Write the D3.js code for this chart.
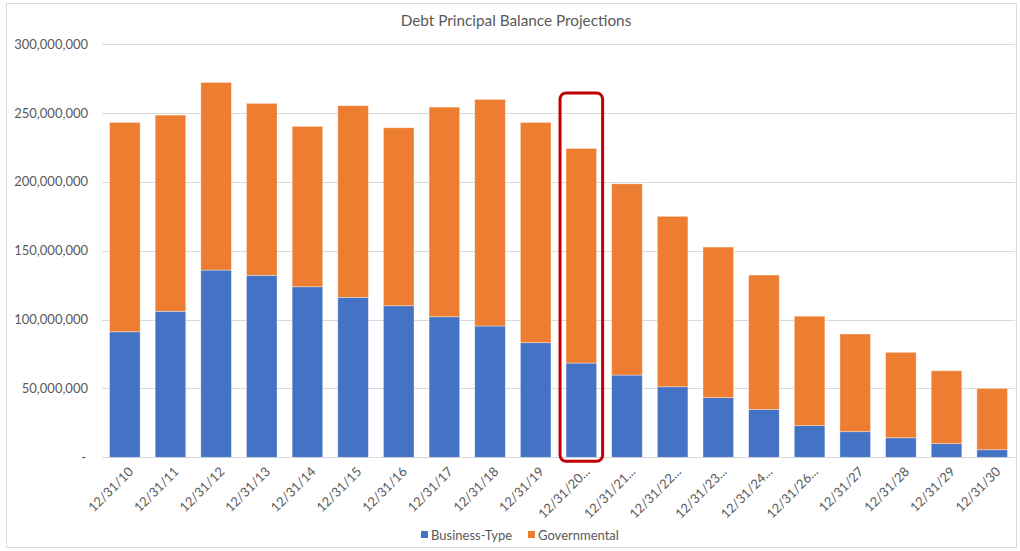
<!DOCTYPE html>
<html>
<head>
<meta charset="utf-8">
<script src="https://cdn.jsdelivr.net/npm/d3@7/dist/d3.min.js"></script>
<style>
  html, body { margin: 0; padding: 0; background: #fff; }
  svg { display: block; font-family: Lato, "Open Sans", sans-serif; }
</style>
</head>
<body>
<svg id="chart" width="1020" height="551"></svg>
<script>
const categories = ["12/31/10","12/31/11","12/31/12","12/31/13","12/31/14","12/31/15","12/31/16","12/31/17","12/31/18","12/31/19","12/31/20...","12/31/21...","12/31/22...","12/31/23...","12/31/24...","12/31/26...","12/31/27","12/31/28","12/31/29","12/31/30"];
const businessType = [91.1,106.0,135.9,132.1,123.8,116.1,110.0,102.0,95.3,83.2,68.4,59.7,51.2,43.3,34.8,23.0,18.6,14.2,9.9,5.5].map(v => v * 1e6);
const governmental = [152.0,142.4,136.2,124.8,116.4,139.1,129.2,152.2,164.5,159.9,155.8,138.8,123.7,109.3,97.5,79.4,70.9,62.0,52.9,44.5].map(v => v * 1e6);
const yTicks = [0, 50e6, 100e6, 150e6, 200e6, 250e6, 300e6];
const seriesNames = ["Business-Type", "Governmental"];
const seriesColors = ["#4472C4", "#ED7D31"];
const highlighted = "12/31/20...";
const title = "Debt Principal Balance Projections";

const svg = d3.select("#chart");
const plot = { left: 102, right: 1015, top: 44, bottom: 457.3 };

// frame
svg.append("rect").attr("x", 6.5).attr("y", 3.5).attr("width", 1010).attr("height", 544)
  .attr("fill", "#fff").attr("stroke", "#d9d9d9").attr("stroke-width", 1);

const x = d3.scaleBand().domain(categories).range([plot.left, plot.right])
  .paddingInner(0.33).paddingOuter(0.165);
const y = d3.scaleLinear().domain([0, 300e6]).range([plot.bottom, plot.top]);

// gridlines
svg.append("g").selectAll("line").data(yTicks).join("line")
  .attr("x1", plot.left).attr("x2", plot.right)
  .attr("y1", d => Math.round(y(d)) + 0.5).attr("y2", d => Math.round(y(d)) + 0.5)
  .attr("stroke", "#d9d9d9").attr("stroke-width", 1);

// y axis labels
const fmt = d3.format(",");
const yAxis = d3.axisLeft(y).tickValues(yTicks).tickSize(0).tickPadding(0)
  .tickFormat(d => d === 0 ? "-" : fmt(d));
const yg = svg.append("g").attr("transform", `translate(${88},0)`).call(yAxis);
yg.select(".domain").remove();
yg.selectAll("text").attr("fill", "#595959").attr("font-size", 13)
  .attr("font-family", "Lato, sans-serif").attr("dx", d => d === 0 ? -2 : 0);

// stacked data
const rows = categories.map((c, i) => ({ cat: c, "Business-Type": businessType[i], "Governmental": governmental[i] }));
const stack = d3.stack().keys(seriesNames)(rows);

svg.append("g").selectAll("g").data(stack).join("g")
  .attr("fill", (d, i) => seriesColors[i])
  .selectAll("rect").data(d => d).join("rect")
  .attr("x", d => x(d.data.cat))
  .attr("width", x.bandwidth())
  .attr("y", d => y(d[1]))
  .attr("height", d => y(d[0]) - y(d[1]))
  .attr("stroke", "rgba(255,255,255,0.45)").attr("stroke-width", 0.8);

// x axis labels
const xAxis = d3.axisBottom(x).tickSize(0).tickPadding(0);
const xg = svg.append("g").attr("transform", `translate(0,${plot.bottom})`).call(xAxis);
xg.select(".domain").remove();
xg.selectAll("text")
  .attr("fill", "#595959").attr("font-size", 13).attr("font-family", "Lato, sans-serif")
  .attr("text-anchor", "end")
  .attr("transform", "translate(6,12) rotate(-45)")
  .attr("dy", "0.35em");

// highlight box around the highlighted category
svg.append("rect")
  .attr("x", x(highlighted) - 6)
  .attr("y", 93)
  .attr("width", x.bandwidth() + 12)
  .attr("height", plot.bottom + 4 - 93)
  .attr("rx", 6).attr("ry", 6)
  .attr("fill", "none").attr("stroke", "#C00000").attr("stroke-width", 3);

// title
svg.append("text").attr("x", 516).attr("y", 26).attr("text-anchor", "middle")
  .attr("fill", "#595959").attr("font-size", 15.3).text(title);

// legend
const legend = svg.append("g").attr("transform", "translate(421,535)");
const items = [{ name: seriesNames[0], x: 0 }, { name: seriesNames[1], x: 107 }];
items.forEach((it, i) => {
  const g = legend.append("g").attr("transform", `translate(${it.x},0)`);
  g.append("rect").attr("x", 0).attr("y", -4).attr("width", 7).attr("height", 7).attr("fill", seriesColors[i]);
  g.append("text").attr("x", 10).attr("y", 0).attr("dy", "0.35em")
    .attr("fill", "#595959").attr("font-size", 13).text(it.name);
});
</script>
</body>
</html>
